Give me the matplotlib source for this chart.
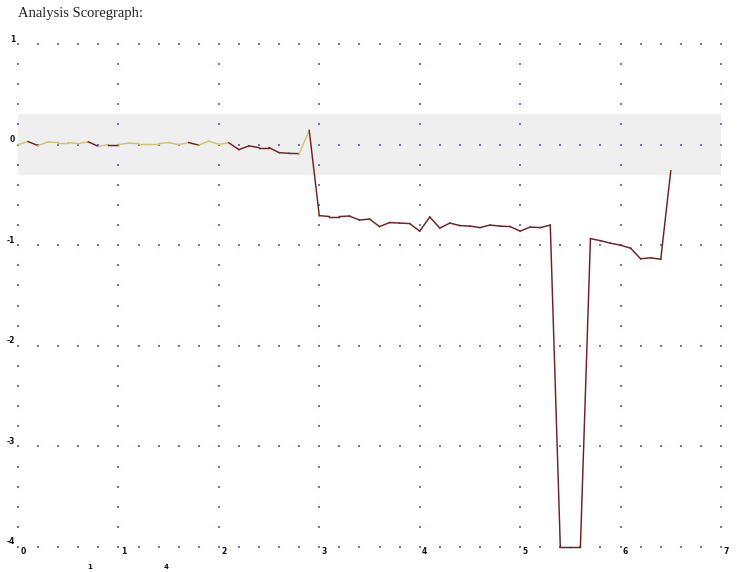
import matplotlib
matplotlib.use("Agg")
import matplotlib.pyplot as plt
import matplotlib.transforms as mtransforms
import numpy as np

# ---- data ----
x_values = [round(0.1 * i, 1) for i in range(66)]
y_values = [0.00, 0.03, -0.01, 0.027, 0.02, 0.02, 0.01, 0.027, -0.017, 0.0,
            0.0, 0.015, 0.01, 0.01, 0.01, 0.02, 0.0, 0.02, -0.005, 0.035,
            0.003, 0.017, -0.05, -0.013, -0.03, -0.03, -0.08, -0.087, -0.09, 0.14,
            -0.706, -0.715, -0.715, -0.71, -0.75, -0.74, -0.815, -0.775, -0.78, -0.785,
            -0.86, -0.72, -0.83, -0.78, -0.805, -0.81, -0.825, -0.80, -0.81, -0.815,
            -0.86, -0.82, -0.825, -0.80, -4.0, -4.0, -4.0, -0.935, -0.955, -0.98,
            -1.0, -1.03, -1.135, -1.125, -1.14, -0.26]
# segment kind: 'y' = yellow, 'r' = dark red
segment_kinds = (['y', 'r'] + ['y'] * 5 + ['r', 'y', 'r'] + ['y'] * 7 + ['r'] +
                 ['y'] * 3 + ['r'] * 7 + ['y'] + ['r'] * 36)
x_ticks = [0, 1, 2, 3, 4, 5, 6, 7]
y_ticks = [1, 0, -1, -2, -3, -4]
band_range = (-0.3, 0.3)
title_text = "Analysis Scoregraph:"
footer_fragments = ["1", "4"]

kind_colors = {'y': '#cdc476', 'r': '#6c2222'}

W, H = 744, 572
fig = plt.figure(figsize=(W / 100, H / 100), dpi=100)
x0, x1 = 18, 721
ytop, ybot = 44, 547
ax = fig.add_axes([x0 / W, (H - ybot) / H, (x1 - x0) / W, (ybot - ytop) / H])
ax.set_xlim(0, 7)
ax.set_ylim(-4, 1)
ax.axis('off')

# band
ax.axhspan(band_range[0], band_range[1], xmin=0, xmax=1, color='#efefef', zorder=0, lw=0)

# dotted grid
dot_col = '#7474b8'
for yv in y_ticks:
    xs = np.arange(0, 7.0001, 0.2)
    ax.scatter(xs, np.full_like(xs, yv), s=0.9, color=dot_col, marker='s', lw=0, zorder=1, clip_on=False)
for xv in x_ticks:
    ys = np.arange(-4, 1.0001, 0.2)
    ax.scatter(np.full_like(ys, xv), ys, s=0.9, color=dot_col, marker='s', lw=0, zorder=1, clip_on=False)

# line segments
for i, k in enumerate(segment_kinds):
    ax.plot(x_values[i:i + 2], y_values[i:i + 2], color=kind_colors[k], lw=1.05,
            solid_joinstyle='miter', zorder=3, clip_on=False)

# tick labels
xoff = mtransforms.offset_copy(ax.transData, fig=fig, x=5, y=-4, units='dots')
for xv in x_ticks:
    ax.text(xv, -4, str(xv), transform=xoff, ha='center', va='center', fontsize=5.5,
            fontweight='bold', color='#111111', family='DejaVu Sans')
yoff = mtransforms.offset_copy(ax.transData, fig=fig, x=-3, y=5, units='dots')
for yv in y_ticks:
    ax.text(0, yv, str(yv), transform=yoff, ha='right', va='center', fontsize=5.5,
            fontweight='bold', color='#111111', family='DejaVu Sans')

fig.text(18 / W, 1 - 13 / H, title_text, ha='left', va='center', fontsize=10.5,
         family='Liberation Serif', color='#222222')

# small texts near the bottom edge
for xp, s in zip([90, 166], footer_fragments):
    fig.text(xp / W, 1 - 570 / H, s, ha='center', va='bottom', fontsize=5,
             fontweight='bold', family='DejaVu Sans', color='#111111')

fig.savefig('out.png', dpi=100)
